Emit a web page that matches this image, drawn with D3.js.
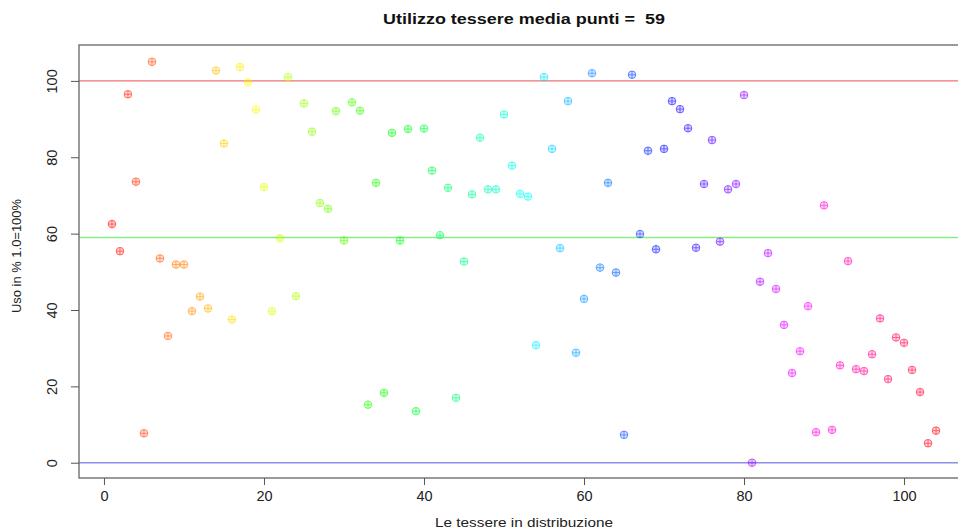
<!DOCTYPE html>
<html>
<head>
<meta charset="utf-8">
<script src="https://cdn.jsdelivr.net/npm/d3@7"></script>
<style>
  body { margin: 0; background: #fff; }
  text { font-family: "Liberation Sans", Arial, sans-serif; white-space: pre; }
</style>
</head>
<body>
<svg id="chart" width="958" height="531"></svg>
<script>
// uso delle tessere, una per punto (indice 1..104)
var usoTessere = [
  62.5, 55.4, 96.5, 73.6, 7.7, 105.0, 53.5, 33.2, 51.9, 51.9,
  39.7, 43.5, 40.4, 102.7, 83.6, 37.5, 103.6, 99.6, 92.5, 72.2,
  39.7, 58.8, 101.0, 43.6, 94.1, 86.7, 68.0, 66.5, 92.1, 58.2,
  94.4, 92.2, 15.2, 73.3, 18.3, 86.4, 58.2, 87.4, 13.5, 87.5,
  76.5, 59.6, 72.0, 17.0, 52.7, 70.3, 85.1, 71.6, 71.6, 91.2,
  77.8, 70.4, 69.7, 30.8, 101.0, 82.2, 56.2, 94.7, 28.8, 42.9,
  102.0, 51.1, 73.3, 49.8, 7.3, 101.6, 59.9, 81.7, 55.9, 82.2,
  94.7, 92.6, 87.6, 56.3, 73.0, 84.5, 57.9, 71.6, 73.0, 96.3,
  0.0, 47.4, 54.9, 45.5, 36.1, 23.5, 29.2, 41.0, 8.0, 67.4,
  8.6, 25.5, 52.8, 24.5, 24.0, 28.4, 37.8, 21.9, 32.8, 31.4,
  24.3, 18.5, 5.1, 8.4
];
var mediaPunti = 59;
var lineeRif = [
  { y: 100, color: "#ec7272" },
  { y: mediaPunti, color: "#86ee86" },
  { y: 0, color: "#8e8ee6" }
];
var xTicks = [0, 20, 40, 60, 80, 100];
var yTicks = [0, 20, 40, 60, 80, 100];

var punti = usoTessere.map(function(v, i) { return { i: i + 1, v: v }; });

var svg = d3.select("#chart");

// limiti come in R (range esteso del 4%)
var x = d3.scaleLinear().domain([-3.12, 108.12]).range([79, 969]);
var y = d3.scaleLinear().domain([-4.0, 109.4]).range([478, 45]);

// colori rainbow(104)
var n = usoTessere.length;
function rainbow(i) { return d3.hsl(360 * (i - 1) / n, 1, 0.5).toString(); }

svg.append("g")
  .selectAll("line")
  .data(lineeRif)
  .enter().append("line")
    .attr("x1", x.range()[0])
    .attr("x2", x.range()[1])
    .attr("y1", function(d) { return y(d.y); })
    .attr("y2", function(d) { return y(d.y); })
    .attr("stroke", function(d) { return d.color; })
    .attr("stroke-width", 1.4);

var pt = svg.append("g")
  .selectAll("g")
  .data(punti)
  .enter().append("g")
    .attr("transform", function(d) { return "translate(" + x(d.i) + "," + y(d.v) + ")"; })
    .attr("stroke", function(d) { return rainbow(d.i); })
    .attr("stroke-width", 0.9)
    .attr("opacity", 0.68);

pt.append("circle")
  .attr("r", 3.8)
  .attr("fill", function(d) { return rainbow(d.i); })
  .attr("fill-opacity", 0.25);
pt.append("line").attr("x1", -3.8).attr("x2", 3.8);
pt.append("line").attr("y1", -3.8).attr("y2", 3.8);

// cornice
svg.append("rect")
  .attr("x", x.range()[0])
  .attr("y", y.range()[1])
  .attr("width", x.range()[1] - x.range()[0])
  .attr("height", y.range()[0] - y.range()[1])
  .attr("fill", "none")
  .attr("stroke", "#707070")
  .attr("stroke-width", 1.4);

var xAxis = svg.append("g")
  .attr("transform", "translate(0," + y.range()[0] + ")")
  .call(d3.axisBottom(x).tickValues(xTicks).tickSize(7).tickPadding(6));
xAxis.select(".domain").remove();
xAxis.selectAll("line").attr("stroke", "#555");
xAxis.selectAll("text").attr("font-size", 14.5).attr("fill", "#222");

var yAxis = svg.append("g")
  .attr("transform", "translate(" + x.range()[0] + ",0)")
  .call(d3.axisLeft(y).tickValues(yTicks).tickSize(8));
yAxis.select(".domain").remove();
yAxis.selectAll("line").attr("stroke", "#555");
yAxis.selectAll("text")
  .attr("font-size", 14.5)
  .attr("fill", "#222")
  .attr("x", null).attr("dy", null)
  .attr("text-anchor", "middle")
  .attr("transform", "translate(-22,0) rotate(-90)")
  .attr("y", 0);

svg.append("text")
  .attr("x", 524)
  .attr("y", 24)
  .attr("text-anchor", "middle")
  .attr("font-size", 14)
  .attr("font-weight", "bold")
  .attr("fill", "#111")
  .attr("textLength", 282)
  .attr("lengthAdjust", "spacingAndGlyphs")
  .text("Utilizzo tessere media punti =  " + mediaPunti);

svg.append("text")
  .attr("x", 524)
  .attr("y", 527)
  .attr("text-anchor", "middle")
  .attr("font-size", 13.5)
  .attr("fill", "#222")
  .attr("textLength", 178)
  .attr("lengthAdjust", "spacingAndGlyphs")
  .text("Le tessere in distribuzione");

svg.append("text")
  .attr("transform", "translate(21,256) rotate(-90)")
  .attr("text-anchor", "middle")
  .attr("font-size", 13)
  .attr("fill", "#222")
  .attr("textLength", 114)
  .attr("lengthAdjust", "spacingAndGlyphs")
  .text("Uso in % 1.0=100%");
</script>
</body>
</html>
